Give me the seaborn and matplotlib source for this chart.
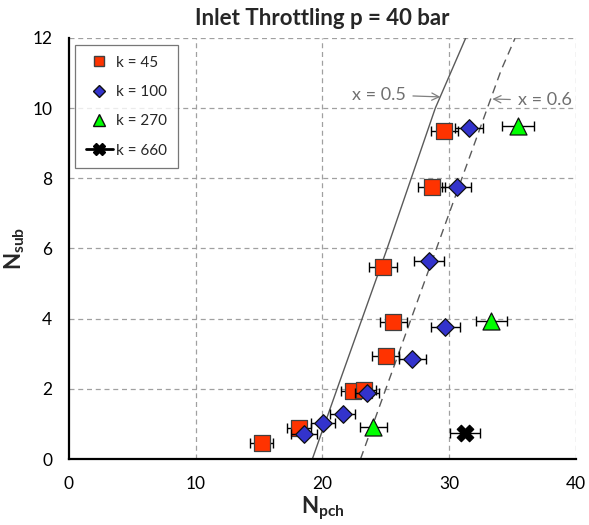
import matplotlib
matplotlib.use("Agg")
import matplotlib.pyplot as plt
from matplotlib.lines import Line2D
import seaborn as sns
import pandas as pd

# Measured operating points (N_pch, N_sub) with horizontal uncertainty in N_pch
k45_npch = [15.2, 18.15, 22.4, 23.25, 25.0, 25.6, 24.75, 28.6, 29.6]
k45_nsub = [0.45, 0.88, 1.94, 1.97, 2.94, 3.91, 5.47, 7.76, 9.36]
k45_err = [0.9, 0.95, 0.9, 0.95, 1.07, 1.07, 1.1, 1.1, 1.07]

k100_npch = [18.55, 20.05, 21.6, 23.5, 27.1, 29.7, 28.4, 30.6, 31.56]
k100_nsub = [0.71, 1.02, 1.28, 1.87, 2.85, 3.76, 5.65, 7.75, 9.43]
k100_err = [1.0, 0.95, 0.98, 0.95, 1.05, 1.14, 1.15, 1.14, 1.1]

k270_npch = [24.0, 33.3, 35.4]
k270_nsub = [0.92, 3.93, 9.5]
k270_err = [1.07, 1.22, 1.25]

k660_npch = [31.24]
k660_nsub = [0.74]
k660_err = [1.22]

# Constant-quality boundaries
x05_npch = [19.2, 21.4, 25.1, 27.0, 28.9, 30.1, 31.3]
x05_nsub = [0.0, 2.25, 6.0, 8.0, 10.0, 11.0, 12.0]
x06_npch = [23.0, 25.4, 29.8, 34.1, 35.2]
x06_nsub = [0.0, 2.4, 6.81, 11.09, 12.0]

x_ticks = [0, 10, 20, 30, 40]
y_ticks = [0, 2, 4, 6, 8, 10, 12]

sns.set_theme(style="white")
plt.rcParams["font.family"] = ["Lato", "DejaVu Sans"]
plt.rcParams["mathtext.fontset"] = "custom"
plt.rcParams["mathtext.bf"] = "Lato:bold"
plt.rcParams["mathtext.rm"] = "Lato"

fig = plt.figure(figsize=(5.89, 5.25), dpi=100)
ax = fig.add_axes([0.117, 0.1257, 0.861, 0.802])

grid_kw = dict(color="#a0a0a0", linestyle=(0, (4, 3)), linewidth=0.9)
for xv in x_ticks[1:]:
    ax.axvline(xv, zorder=0, **grid_kw)
for yv in y_ticks[1:]:
    ax.axhline(yv, zorder=0, **grid_kw)

# Quality lines
sns.lineplot(x=x05_npch, y=x05_nsub, sort=False, estimator=None, ax=ax,
             color="#5a5a5a", linewidth=1.0, zorder=1)
sns.lineplot(x=x06_npch, y=x06_nsub, sort=False, estimator=None, ax=ax,
             color="#5a5a5a", linewidth=1.0, linestyle=(0, (6, 4)), zorder=1)

series = [
    ("k = 45", k45_npch, k45_nsub, k45_err, "s", "#ff3300", "#404040", 125),
    ("k = 100", k100_npch, k100_nsub, k100_err, "D", "#3333cc", "#101010", 80),
    ("k = 270", k270_npch, k270_nsub, k270_err, "^", "#00ff00", "#101010", 150),
    ("k = 660", k660_npch, k660_nsub, k660_err, "X", "black", "black", 140),
]

z = 3
for label, xs, ys, errs, marker, face, edge, size in series:
    ax.errorbar(xs, ys, xerr=errs, fmt="none", ecolor="black", elinewidth=1.0,
                capsize=3.5, capthick=1.0, zorder=z)
    df = pd.DataFrame({"N_pch": xs, "N_sub": ys})
    sns.scatterplot(data=df, x="N_pch", y="N_sub", marker=marker, s=size,
                    color=face, edgecolor=edge, linewidth=0.9, ax=ax,
                    zorder=z + 1, legend=False)
    z += 2

# Legend
handles = [
    Line2D([], [], marker="s", linestyle="none", markersize=7.5,
           markerfacecolor="#ff3300", markeredgecolor="#404040"),
    Line2D([], [], marker="D", linestyle="none", markersize=6,
           markerfacecolor="#3333cc", markeredgecolor="#101010"),
    Line2D([], [], marker="^", linestyle="none", markersize=8,
           markerfacecolor="#00ff00", markeredgecolor="#101010"),
    Line2D([], [], marker="X", color="black", linewidth=2, markersize=8.5),
]
leg = ax.legend(handles, [s[0] for s in series], loc="upper left",
                bbox_to_anchor=(0.003, 0.994), frameon=True, fancybox=False,
                edgecolor="#555555", fontsize=11, labelspacing=1.0,
                handlelength=1.8, handletextpad=0.2, borderpad=0.7,
                borderaxespad=0.3)
leg.get_frame().set_linewidth(0.9)
leg.set_zorder(20)

# Line labels
arrow_kw = dict(arrowstyle="->", color="#808080", lw=0.9)
ax.annotate("x = 0.5", xy=(29.3, 10.32), xytext=(22.3, 10.38),
            ha="left", va="center", fontsize=13, color="#707070",
            arrowprops=dict(shrinkA=3, shrinkB=0, **arrow_kw), zorder=15)
ax.annotate("x = 0.6", xy=(33.4, 10.26), xytext=(35.4, 10.22),
            ha="left", va="center", fontsize=13, color="#707070",
            arrowprops=dict(shrinkA=3, shrinkB=0, **arrow_kw), zorder=15)

ax.set_xlim(0, 40)
ax.set_ylim(0, 12)
ax.set_xticks(x_ticks)
ax.set_yticks(y_ticks)
ax.tick_params(axis="both", length=0, labelsize=12.5, pad=12, colors="black")
ax.set_xlabel(r"$\mathbf{N_{pch}}$", fontsize=16, labelpad=2)
ax.set_ylabel(r"$\mathbf{N_{sub}}$", fontsize=16, labelpad=4)
ax.set_title("Inlet Throttling p = 40 bar", fontsize=16, fontweight="bold", pad=9)

for side in ("top", "right"):
    ax.spines[side].set_visible(False)
for side in ("left", "bottom"):
    ax.spines[side].set_color("black")
    ax.spines[side].set_linewidth(1.6)

fig.savefig("out.png", dpi=100)
